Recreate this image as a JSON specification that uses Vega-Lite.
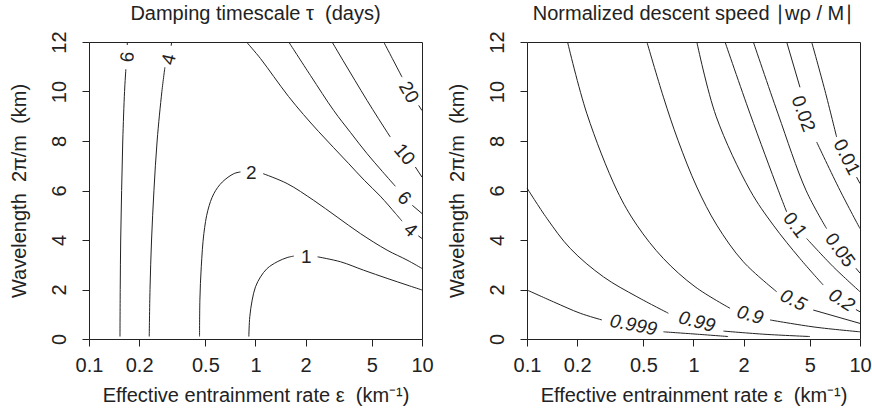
{
  "$schema": "https://vega.github.io/schema/vega-lite/v6.json",
  "autosize": {"type": "pad"},
  "padding": {"left": 8, "top": 3, "right": 5, "bottom": 0},
  "bounds": "flush",
  "spacing": 105,
  "datasets": {
    "tauLines": [
      {"seg": "6a", "eps": 0.1535, "km": 0.1}, {"seg": "6a", "eps": 0.154, "km": 2}, {"seg": "6a", "eps": 0.155, "km": 4}, {"seg": "6a", "eps": 0.157, "km": 6}, {"seg": "6a", "eps": 0.1595, "km": 8}, {"seg": "6a", "eps": 0.1635, "km": 10}, {"seg": "6a", "eps": 0.1665, "km": 10.9},
      {"seg": "6b", "eps": 0.1697, "km": 11.88}, {"seg": "6b", "eps": 0.170, "km": 12},
      {"seg": "4a", "eps": 0.230, "km": 0.1}, {"seg": "4a", "eps": 0.2325, "km": 2}, {"seg": "4a", "eps": 0.2375, "km": 4}, {"seg": "4a", "eps": 0.2455, "km": 6}, {"seg": "4a", "eps": 0.2565, "km": 8}, {"seg": "4a", "eps": 0.274, "km": 10}, {"seg": "4a", "eps": 0.2857, "km": 10.98},
      {"seg": "4b", "eps": 0.3115, "km": 11.85}, {"seg": "4b", "eps": 0.3135, "km": 12},
      {"seg": "2a", "eps": 0.4613, "km": 0.1}, {"seg": "2a", "eps": 0.4634, "km": 1.57}, {"seg": "2a", "eps": 0.4724, "km": 2.92}, {"seg": "2a", "eps": 0.4897, "km": 4.26}, {"seg": "2a", "eps": 0.5175, "km": 5.2}, {"seg": "2a", "eps": 0.5623, "km": 5.875}, {"seg": "2a", "eps": 0.6313, "km": 6.34}, {"seg": "2a", "eps": 0.7413, "km": 6.68}, {"seg": "2a", "eps": 0.8128, "km": 6.75},
      {"seg": "2b", "eps": 1.112, "km": 6.68}, {"seg": "2b", "eps": 1.549, "km": 6.28}, {"seg": "2b", "eps": 2.238, "km": 5.6}, {"seg": "2b", "eps": 3.09, "km": 4.93}, {"seg": "2b", "eps": 4.266, "km": 4.26}, {"seg": "2b", "eps": 6.17, "km": 3.59}, {"seg": "2b", "eps": 8.13, "km": 3.19}, {"seg": "2b", "eps": 10, "km": 2.85},
      {"seg": "1a", "eps": 0.912, "km": 0.1}, {"seg": "1a", "eps": 0.924, "km": 0.9}, {"seg": "1a", "eps": 0.955, "km": 1.57}, {"seg": "1a", "eps": 1.0, "km": 2.11}, {"seg": "1a", "eps": 1.072, "km": 2.51}, {"seg": "1a", "eps": 1.175, "km": 2.85}, {"seg": "1a", "eps": 1.35, "km": 3.12}, {"seg": "1a", "eps": 1.549, "km": 3.29}, {"seg": "1a", "eps": 1.698, "km": 3.35},
      {"seg": "1b", "eps": 2.36, "km": 3.32}, {"seg": "1b", "eps": 3.24, "km": 3.12}, {"seg": "1b", "eps": 4.46, "km": 2.78}, {"seg": "1b", "eps": 6.17, "km": 2.45}, {"seg": "1b", "eps": 8.13, "km": 2.18}, {"seg": "1b", "eps": 10, "km": 1.98},
      {"seg": "4c", "eps": 0.883, "km": 12}, {"seg": "4c", "eps": 1.072, "km": 11.33}, {"seg": "4c", "eps": 1.288, "km": 10.6}, {"seg": "4c", "eps": 1.578, "km": 9.8}, {"seg": "4c", "eps": 1.941, "km": 9.07}, {"seg": "4c", "eps": 2.387, "km": 8.39}, {"seg": "4c", "eps": 2.938, "km": 7.74}, {"seg": "4c", "eps": 3.614, "km": 7.1}, {"seg": "4c", "eps": 4.507, "km": 6.41}, {"seg": "4c", "eps": 5.62, "km": 5.77}, {"seg": "4c", "eps": 6.92, "km": 5.08}, {"seg": "4c", "eps": 7.59, "km": 4.76},
      {"seg": "4d", "eps": 9.5, "km": 4.17}, {"seg": "4d", "eps": 10, "km": 4.06},
      {"seg": "6c", "eps": 1.584, "km": 12}, {"seg": "6c", "eps": 2.138, "km": 10.65}, {"seg": "6c", "eps": 2.951, "km": 9.23}, {"seg": "6c", "eps": 3.715, "km": 8.35}, {"seg": "6c", "eps": 4.677, "km": 7.49}, {"seg": "6c", "eps": 5.78, "km": 6.77}, {"seg": "6c", "eps": 6.92, "km": 6.17},
      {"seg": "6d", "eps": 8.75, "km": 5.4}, {"seg": "6d", "eps": 10, "km": 5.07},
      {"seg": "10a", "eps": 2.884, "km": 12}, {"seg": "10a", "eps": 3.357, "km": 11.25}, {"seg": "10a", "eps": 3.963, "km": 10.44}, {"seg": "10a", "eps": 4.677, "km": 9.64}, {"seg": "10a", "eps": 5.47, "km": 8.91}, {"seg": "10a", "eps": 6.45, "km": 8.16},
      {"seg": "10b", "eps": 9.12, "km": 6.95}, {"seg": "10b", "eps": 10, "km": 6.54},
      {"seg": "20a", "eps": 5.89, "km": 12}, {"seg": "20a", "eps": 6.64, "km": 11.33}, {"seg": "20a", "eps": 7.59, "km": 10.58},
      {"seg": "20b", "eps": 9.55, "km": 9.44}, {"seg": "20b", "eps": 10, "km": 9.23}
    ],
    "tauLabels": [
      {"id": "6L", "label": "6", "eps": 0.170, "km": 11.4},
      {"id": "4L", "label": "4", "eps": 0.302, "km": 11.3},
      {"id": "2", "label": "2", "eps": 0.943, "km": 6.7},
      {"id": "1", "label": "1", "eps": 2.02, "km": 3.32},
      {"id": "4R", "label": "4", "eps": 8.51, "km": 4.4},
      {"id": "6R", "label": "6", "eps": 7.83, "km": 5.69},
      {"id": "10", "label": "10", "eps": 7.83, "km": 7.46},
      {"id": "20", "label": "20", "eps": 8.31, "km": 9.97}
    ],
    "wLines": [
      {"seg": "0.999a", "eps": 0.1, "km": 1.98}, {"seg": "0.999a", "eps": 0.1444, "km": 1.5}, {"seg": "0.999a", "eps": 0.2088, "km": 1.04}, {"seg": "0.999a", "eps": 0.2818, "km": 0.77},
      {"seg": "0.999b", "eps": 0.66, "km": 0.29}, {"seg": "0.999b", "eps": 1.022, "km": 0.2}, {"seg": "0.999b", "eps": 1.613, "km": 0.1},
      {"seg": "0.99a", "eps": 0.1, "km": 6.1}, {"seg": "0.99a", "eps": 0.1318, "km": 4.87}, {"seg": "0.99a", "eps": 0.1818, "km": 3.66}, {"seg": "0.99a", "eps": 0.288, "km": 2.51}, {"seg": "0.99a", "eps": 0.457, "km": 1.71}, {"seg": "0.99a", "eps": 0.707, "km": 1.04},
      {"seg": "0.99b", "eps": 1.512, "km": 0.32}, {"seg": "0.99b", "eps": 2.689, "km": 0.19}, {"seg": "0.99b", "eps": 5.006, "km": 0.1},
      {"seg": "0.9a", "eps": 0.1752, "km": 12}, {"seg": "0.9a", "eps": 0.229, "km": 9.1}, {"seg": "0.9a", "eps": 0.3467, "km": 6.01}, {"seg": "0.9a", "eps": 0.457, "km": 4.6}, {"seg": "0.9a", "eps": 0.66, "km": 3.25}, {"seg": "0.9a", "eps": 1.022, "km": 2.11}, {"seg": "0.9a", "eps": 1.658, "km": 1.24},
      {"seg": "0.9b", "eps": 2.88, "km": 0.77}, {"seg": "0.9b", "eps": 5.365, "km": 0.48}, {"seg": "0.9b", "eps": 10, "km": 0.29},
      {"seg": "0.5a", "eps": 0.525, "km": 12}, {"seg": "0.5a", "eps": 0.66, "km": 9.77}, {"seg": "0.5a", "eps": 0.808, "km": 8.02}, {"seg": "0.5a", "eps": 1.047, "km": 6.14}, {"seg": "0.5a", "eps": 1.38, "km": 4.6}, {"seg": "0.5a", "eps": 1.993, "km": 3.12}, {"seg": "0.5a", "eps": 3.16, "km": 1.91},
      {"seg": "0.5b", "eps": 5.24, "km": 1.17}, {"seg": "0.5b", "eps": 10, "km": 0.63},
      {"seg": "0.2a", "eps": 1.047, "km": 12}, {"seg": "0.2a", "eps": 1.367, "km": 9.0}, {"seg": "0.2a", "eps": 2.186, "km": 6.01}, {"seg": "0.2a", "eps": 3.016, "km": 4.6}, {"seg": "0.2a", "eps": 4.36, "km": 3.25}, {"seg": "0.2a", "eps": 6.016, "km": 2.18},
      {"seg": "0.2b", "eps": 9.45, "km": 1.19}, {"seg": "0.2b", "eps": 10, "km": 1.1},
      {"seg": "0.1a", "eps": 1.547, "km": 12}, {"seg": "0.1a", "eps": 2.186, "km": 9.1}, {"seg": "0.1a", "eps": 3.23, "km": 6.01}, {"seg": "0.1a", "eps": 3.628, "km": 5.13},
      {"seg": "0.1b", "eps": 4.783, "km": 4.06}, {"seg": "0.1b", "eps": 6.905, "km": 2.92}, {"seg": "0.1b", "eps": 10, "km": 1.91},
      {"seg": "0.05a", "eps": 2.288, "km": 12}, {"seg": "0.05a", "eps": 3.218, "km": 9.1}, {"seg": "0.05a", "eps": 4.737, "km": 6.01}, {"seg": "0.05a", "eps": 6.3, "km": 4.46},
      {"seg": "0.05b", "eps": 9.45, "km": 2.86}, {"seg": "0.05b", "eps": 10, "km": 2.66},
      {"seg": "0.02a", "eps": 3.628, "km": 12}, {"seg": "0.02a", "eps": 4.36, "km": 10.17},
      {"seg": "0.02b", "eps": 5.492, "km": 7.96}, {"seg": "0.02b", "eps": 7.576, "km": 6.01}, {"seg": "0.02b", "eps": 10, "km": 4.46},
      {"seg": "0.01a", "eps": 5.125, "km": 12}, {"seg": "0.01a", "eps": 6.158, "km": 10.04}, {"seg": "0.01a", "eps": 7.237, "km": 8.16},
      {"seg": "0.01b", "eps": 9.54, "km": 6.54}, {"seg": "0.01b", "eps": 10, "km": 6.28}
    ],
    "wLabels": [
      {"label": "0.999", "eps": 0.436, "km": 0.56},
      {"label": "0.99", "eps": 1.047, "km": 0.7},
      {"label": "0.9", "eps": 2.186, "km": 0.97},
      {"label": "0.5", "eps": 3.975, "km": 1.57},
      {"label": "0.2", "eps": 7.756, "km": 1.57},
      {"label": "0.1", "eps": 4.07, "km": 4.6},
      {"label": "0.05", "eps": 7.576, "km": 3.59},
      {"label": "0.02", "eps": 4.563, "km": 9.1},
      {"label": "0.01", "eps": 8.31, "km": 7.35}
    ]
  },
  "hconcat": [
    {
      "width": 333,
      "height": 297,
      "title": {"text": "Damping timescale τ\u00a0 (days)"},
      "encoding": {
        "x": {"field": "eps", "type": "quantitative", "scale": {"type": "log", "domain": [0.1, 10], "nice": false}, "axis": {"values": [0.1, 0.2, 0.5, 1, 2, 5, 10], "format": "~g", "title": "Effective entrainment rate ε\u00a0 (km⁻¹)"}},
        "y": {"field": "km", "type": "quantitative", "scale": {"domain": [0, 12], "nice": false, "zero": false}, "axis": {"values": [0, 2, 4, 6, 8, 10, 12], "format": "d", "title": "Wavelength\u00a0 2π/m\u00a0 (km)"}}
      },
      "layer": [
        {"data": {"name": "tauLines"}, "mark": {"type": "line", "color": "#222", "strokeWidth": 1, "interpolate": "catmull-rom"}, "encoding": {"detail": {"field": "seg"}}},
        {"data": {"name": "tauLabels"}, "transform": [{"filter": "datum.id == '6L'"}], "mark": {"type": "text", "angle": -85, "fontSize": 19, "color": "#222"}, "encoding": {"text": {"field": "label"}}},
        {"data": {"name": "tauLabels"}, "transform": [{"filter": "datum.id == '4L'"}], "mark": {"type": "text", "angle": -76, "fontSize": 19, "color": "#222"}, "encoding": {"text": {"field": "label"}}},
        {"data": {"name": "tauLabels"}, "transform": [{"filter": "datum.id == '2' || datum.id == '1'"}], "mark": {"type": "text", "angle": 0, "fontSize": 19, "color": "#222"}, "encoding": {"text": {"field": "label"}}},
        {"data": {"name": "tauLabels"}, "transform": [{"filter": "datum.id == '4R'"}], "mark": {"type": "text", "angle": 42, "fontSize": 19, "color": "#222"}, "encoding": {"text": {"field": "label"}}},
        {"data": {"name": "tauLabels"}, "transform": [{"filter": "datum.id == '6R'"}], "mark": {"type": "text", "angle": 45, "fontSize": 19, "color": "#222"}, "encoding": {"text": {"field": "label"}}},
        {"data": {"name": "tauLabels"}, "transform": [{"filter": "datum.id == '10'"}], "mark": {"type": "text", "angle": 50, "fontSize": 19, "color": "#222"}, "encoding": {"text": {"field": "label"}}},
        {"data": {"name": "tauLabels"}, "transform": [{"filter": "datum.id == '20'"}], "mark": {"type": "text", "angle": 60, "fontSize": 19, "color": "#222"}, "encoding": {"text": {"field": "label"}}}
      ]
    },
    {
      "width": 333,
      "height": 297,
      "title": {"text": "Normalized descent speed ∣wρ / M∣"},
      "encoding": {
        "x": {"field": "eps", "type": "quantitative", "scale": {"type": "log", "domain": [0.1, 10], "nice": false}, "axis": {"values": [0.1, 0.2, 0.5, 1, 2, 5, 10], "format": "~g", "title": "Effective entrainment rate ε\u00a0 (km⁻¹)"}},
        "y": {"field": "km", "type": "quantitative", "scale": {"domain": [0, 12], "nice": false, "zero": false}, "axis": {"values": [0, 2, 4, 6, 8, 10, 12], "format": "d", "title": "Wavelength\u00a0 2π/m\u00a0 (km)"}}
      },
      "layer": [
        {"data": {"name": "wLines"}, "mark": {"type": "line", "color": "#222", "strokeWidth": 1, "interpolate": "catmull-rom"}, "encoding": {"detail": {"field": "seg"}}},
        {"data": {"name": "wLabels"}, "transform": [{"filter": "datum.label == '0.999'"}], "mark": {"type": "text", "angle": 11, "fontSize": 19, "fontStyle": "italic", "color": "#222"}, "encoding": {"text": {"field": "label"}}},
        {"data": {"name": "wLabels"}, "transform": [{"filter": "datum.label == '0.99'"}], "mark": {"type": "text", "angle": 15, "fontSize": 19, "fontStyle": "italic", "color": "#222"}, "encoding": {"text": {"field": "label"}}},
        {"data": {"name": "wLabels"}, "transform": [{"filter": "datum.label == '0.9'"}], "mark": {"type": "text", "angle": 16, "fontSize": 19, "fontStyle": "italic", "color": "#222"}, "encoding": {"text": {"field": "label"}}},
        {"data": {"name": "wLabels"}, "transform": [{"filter": "datum.label == '0.5'"}], "mark": {"type": "text", "angle": 27, "fontSize": 19, "fontStyle": "italic", "color": "#222"}, "encoding": {"text": {"field": "label"}}},
        {"data": {"name": "wLabels"}, "transform": [{"filter": "datum.label == '0.2'"}], "mark": {"type": "text", "angle": 32, "fontSize": 19, "fontStyle": "italic", "color": "#222"}, "encoding": {"text": {"field": "label"}}},
        {"data": {"name": "wLabels"}, "transform": [{"filter": "datum.label == '0.1'"}], "mark": {"type": "text", "angle": 53, "fontSize": 19, "color": "#222"}, "encoding": {"text": {"field": "label"}}},
        {"data": {"name": "wLabels"}, "transform": [{"filter": "datum.label == '0.05'"}], "mark": {"type": "text", "angle": 54, "fontSize": 19, "color": "#222"}, "encoding": {"text": {"field": "label"}}},
        {"data": {"name": "wLabels"}, "transform": [{"filter": "datum.label == '0.02'"}], "mark": {"type": "text", "angle": 70, "fontSize": 19, "color": "#222"}, "encoding": {"text": {"field": "label"}}},
        {"data": {"name": "wLabels"}, "transform": [{"filter": "datum.label == '0.01'"}], "mark": {"type": "text", "angle": 63, "fontSize": 19, "color": "#222"}, "encoding": {"text": {"field": "label"}}}
      ]
    }
  ],
  "config": {
    "font": "Liberation Sans",
    "view": {"stroke": "#222", "strokeWidth": 1},
    "title": {"font": "Liberation Sans", "fontSize": 20, "fontWeight": "normal", "color": "#222", "offset": 7, "anchor": "middle"},
    "text": {"font": "Liberation Sans"},
    "axis": {"grid": false, "domain": false, "tickColor": "#222", "tickSize": 7, "tickWidth": 1, "labelColor": "#222", "labelFont": "Liberation Sans", "labelFontSize": 20, "titleFont": "Liberation Sans", "titleFontSize": 20, "titleFontWeight": "normal", "titleColor": "#222", "labelOverlap": false, "labelFlush": false},
    "axisX": {"labelPadding": 9, "titlePadding": 10},
    "axisY": {"labelAngle": -90, "labelAlign": "center", "labelBaseline": "alphabetic", "labelPadding": 17, "titlePadding": 20}
  }
}
